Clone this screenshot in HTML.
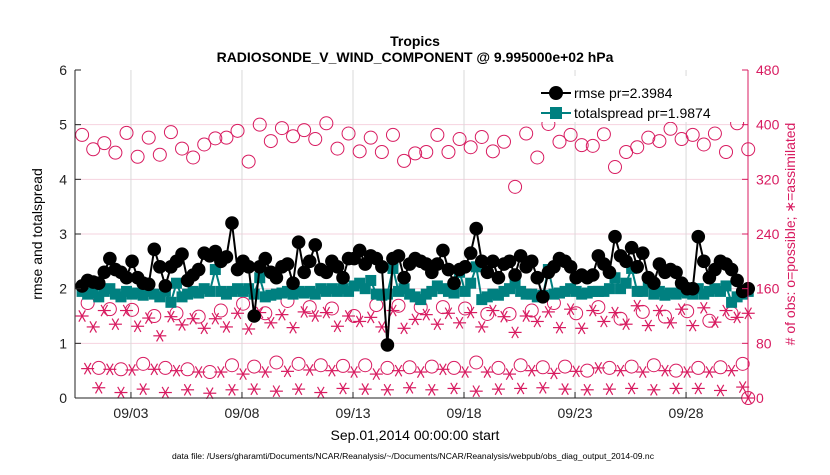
<!DOCTYPE html>
<html><head><meta charset="utf-8"><style>
body{margin:0;background:#fff;}
svg text{font-family:"Liberation Sans",sans-serif;}
</style></head><body>
<svg id="chart" width="830" height="470" xmlns="http://www.w3.org/2000/svg">
<rect width="830" height="470" fill="#fff"/>
<text x="415" y="46" text-anchor="middle" font-size="14" font-weight="bold">Tropics</text>
<text x="415" y="62" text-anchor="middle" font-size="14" font-weight="bold">RADIOSONDE_V_WIND_COMPONENT @ 9.995000e+02 hPa</text>
<g id="grid"></g><g id="marks"></g><g id="axes"></g>
<g>
<rect x="532" y="76" width="212" height="46" fill="#fff"/>
<line x1="541" y1="93" x2="571" y2="93" stroke="#000" stroke-width="2"/>
<circle cx="556" cy="93" r="7" fill="#000"/>
<text x="574" y="98" font-size="14">rmse pr=2.3984</text>
<line x1="541" y1="113" x2="571" y2="113" stroke="#008080" stroke-width="2"/>
<rect x="550" y="107" width="12" height="12" fill="#008080"/>
<text x="574" y="118" font-size="14">totalspread pr=1.9874</text>
</g>
<text transform="translate(42,234) rotate(-90)" text-anchor="middle" font-size="14">rmse and totalspread</text>
<text transform="translate(795,234) rotate(-90)" text-anchor="middle" font-size="14" fill="#d81b60"># of obs: o=possible; ∗=assimilated</text>
<text x="415" y="440" text-anchor="middle" font-size="14">Sep.01,2014 00:00:00 start</text>
<text x="413" y="459" text-anchor="middle" font-size="8" textLength="482" lengthAdjust="spacingAndGlyphs">data file: /Users/gharamti/Documents/NCAR/Reanalysis/~/Documents/NCAR/Reanalysis/webpub/obs_diag_output_2014-09.nc</text>
</svg>
<script>
const rmse=[2.05,2.15,2.12,2.1,2.3,2.55,2.35,2.3,2.2,2.5,2.2,2.1,2.08,2.72,2.4,2.05,2.4,2.5,2.63,2.15,2.25,2.35,2.65,2.6,2.68,2.5,2.58,3.2,2.35,2.5,
2.4,1.5,2.4,2.55,2.3,2.2,2.4,2.45,2.1,2.85,2.3,2.5,2.8,2.35,2.3,2.5,2.4,2.2,2.55,2.55,2.7,2.45,2.6,2.55,2.4,0.97,2.55,2.6,2.2,2.45,
2.55,2.5,2.45,2.3,2.45,2.7,2.35,2.1,2.35,2.4,2.65,3.1,2.5,2.3,2.5,2.2,2.45,2.5,2.25,2.6,2.4,2.5,2.2,1.85,2.3,2.4,2.55,2.5,2.4,2.2,
2.25,2.2,2.25,2.6,2.45,2.3,2.95,2.6,2.5,2.75,2.4,2.65,2.2,2.1,2.45,2.3,2.35,2.3,2.1,2.0,2.0,2.95,2.5,2.2,2.35,2.5,2.45,2.35,2.15,1.95,2.0];
const spread=[1.95,1.9,1.92,1.85,1.95,2.0,1.9,1.85,1.95,1.9,1.92,1.88,1.95,1.9,1.85,1.95,1.75,2.1,1.85,1.9,1.95,1.92,2.0,1.95,2.35,1.95,1.9,1.95,2.0,1.95,
2.0,1.9,2.2,1.85,1.88,1.9,1.92,1.95,1.9,1.95,1.92,1.95,1.9,2.0,1.95,2.0,1.95,2.0,1.95,2.05,2.1,2.0,2.15,1.9,1.88,1.9,2.37,1.95,2.0,1.9,
1.85,1.8,1.9,1.95,2.05,2.0,1.95,1.92,2.3,1.95,2.1,2.4,1.8,1.85,1.9,1.88,1.95,2.0,2.1,1.95,1.9,1.9,1.85,1.88,2.35,1.9,1.92,1.95,2.0,1.95,
1.9,1.92,1.95,1.95,1.95,2.0,2.2,2.0,2.1,2.37,1.95,1.95,2.1,1.9,1.95,1.88,1.92,1.9,1.95,1.92,1.9,2.0,1.9,1.95,2.0,1.95,2.05,1.75,1.85,1.9,1.95];
const upperPossible=[385,364,373,359,388,353,381,356,389,365,352,371,380,381,391,346,400,376,395,383,392,379,402,365,387,361,381,360,385,347,358,
360,385,360,379,367,382,361,375,309,387,352,401,375,385,370,369,386,338,360,367,381,376,394,379,385,371,387,360,402,364];
const midAssim=[120,104,128,108,128,105,117,91,119,107,116,102,116,104,124,101,125,110,122,103,126,120,125,105,120,112,118,104,128,102,115,
122,108,124,110,125,104,128,119,96,120,112,126,103,130,102,128,112,125,108,135,106,128,110,130,106,132,111,128,118,124];
const midPossible=[139,130,129,120,124,119,128,138,124,142,133,131,120,136,135,133,133,131,123,123,128,139,124,133,116,126,119,127,113,124];
const lowAssim=[43,42,41,42,40,38,38,35,38,39,41,40,38,35,40,38,42,38,38,35,40,36,39,44,40,38,40,38,38,40];
const lowPossible=[44,42,50,44,42,38,48,46,52,50,48,47,48,44,45,46,44,52,44,48,45,46,40,44,46,48,40,44,45,50];
const bottomAssim=[15,8,13,8,12,7,12,13,10,13,8,14,13,12,15,12,14,10,13,14,15,13,12,13,14,12,14,14,11,16];
const dateLabels=["09/03","09/08","09/13","09/18","09/23","09/28"];
const dateDays=[2,7,12,17,22,27];
const leftTicks=[0,1,2,3,4,5,6];
const rightTicks=[0,80,160,240,320,400,480];

const X0=75,X1=748,Y0=398,Y1=70;
const DMIN=-0.52,DMAX=29.79;
const xs=d=>X0+(d-DMIN)/(DMAX-DMIN)*(X1-X0);
const yl=v=>Y0-v/6*(Y0-Y1);
const yr=v=>Y0-v/480*(Y0-Y1);
const tOf=i=>0.25*i-0.2;
const NS="http://www.w3.org/2000/svg";
function mk(tag,parent,attrs){const e=document.createElementNS(NS,tag);for(const k in attrs)e.setAttribute(k,attrs[k]);parent.appendChild(e);return e;}
const grid=document.getElementById('grid'),marks=document.getElementById('marks'),axes=document.getElementById('axes');
const PINK="#d81b60";
leftTicks.forEach(v=>{if(v>0&&v<6){const l=mk('line',grid,{x1:X0,x2:X1,y1:yl(v),y2:yl(v),stroke:'#f6d3df','stroke-width':1});

}});
dateDays.forEach(d=>{const l=mk('line',grid,{x1:xs(d),x2:xs(d),y1:Y1,y2:Y0,stroke:'#d9d9d9','stroke-width':1});

});
function circ(x,y){const c=mk('circle',marks,{cx:x,cy:y,r:6.5,fill:'none',stroke:PINK,'stroke-width':1});

}
function star(x,y){const g=mk('g',marks,{stroke:PINK,'stroke-width':1.2});


const r=6.5;mk('line',g,{x1:x-r,x2:x+r,y1:y,y2:y});mk('line',g,{x1:x-r*0.5,x2:x+r*0.5,y1:y-r*0.87,y2:y+r*0.87});mk('line',g,{x1:x-r*0.5,x2:x+r*0.5,y1:y+r*0.87,y2:y-r*0.87});}
upperPossible.forEach((v,k)=>circ(xs(tOf(2*k)),yr(v)));
midAssim.forEach((v,k)=>star(xs(tOf(2*k)),yr(v)));
midPossible.forEach((v,k)=>circ(xs(tOf(4*k+1)),yr(v)));
lowAssim.forEach((v,k)=>star(xs(tOf(4*k+1)),yr(v)));
lowPossible.forEach((v,k)=>circ(xs(tOf(4*k+3)),yr(v)));
bottomAssim.forEach((v,k)=>star(xs(tOf(4*k+3)),yr(v)));
circ(xs(tOf(120)),yr(0));star(xs(tOf(120)),yr(0));

function series(arr,color,name,marker){
 const p=mk('polyline',marks,{points:arr.map((v,i)=>xs(tOf(i))+','+yl(v)).join(' '),fill:'none',stroke:color,'stroke-width':2});
 
 
 arr.forEach((v,i)=>{const x=xs(tOf(i)),y=yl(v);let m;
  if(marker==='c')m=mk('circle',marks,{cx:x,cy:y,r:6.8,fill:color});
  else m=mk('rect',marks,{x:x-5.5,y:y-5.5,width:11,height:11,fill:color});
  
  });
}
series(spread,'#008080','totalspread','s');
series(rmse,'#000','rmse','c');

mk('line',axes,{x1:X0,x2:X0,y1:Y1,y2:Y0,stroke:'#222','stroke-width':1});
mk('line',axes,{x1:X0,x2:X1,y1:Y0,y2:Y0,stroke:'#222','stroke-width':1});
mk('line',axes,{x1:X1,x2:X1,y1:Y1,y2:Y0,stroke:PINK,'stroke-width':1});
leftTicks.forEach(v=>{mk('line',axes,{x1:X0,x2:X0+6,y1:yl(v),y2:yl(v),stroke:'#222'});
 const t=mk('text',axes,{x:X0-8,y:yl(v)+5,'text-anchor':'end','font-size':14,fill:'#222'});t.textContent=v;
 
 });
rightTicks.forEach(v=>{mk('line',axes,{x1:X1-6,x2:X1,y1:yr(v),y2:yr(v),stroke:PINK});
 const t=mk('text',axes,{x:X1+8,y:yr(v)+5,'font-size':14,fill:PINK});t.textContent=v;
 
 });
dateDays.forEach((d,k)=>{mk('line',axes,{x1:xs(d),x2:xs(d),y1:Y0,y2:Y0-6,stroke:'#222'});
 const t=mk('text',axes,{x:xs(d),y:Y0+20,'text-anchor':'middle','font-size':14,fill:'#222'});t.textContent=dateLabels[k];
 
 });
</script>
</body></html>
